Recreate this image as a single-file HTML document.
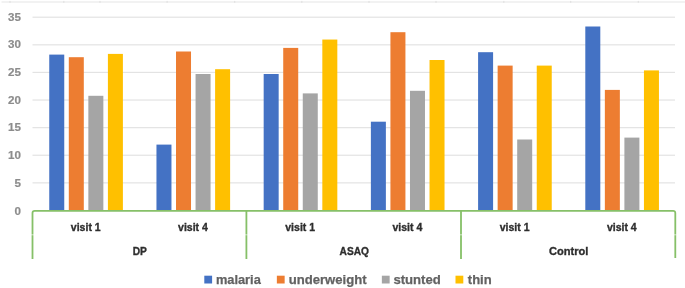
<!DOCTYPE html>
<html><head><meta charset="utf-8"><style>
html,body{margin:0;padding:0;background:#fff;width:685px;height:288px;overflow:hidden;font-family:"Liberation Sans",sans-serif;}
</style></head><body>
<svg width="685" height="288" viewBox="0 0 685 288" style="position:absolute;left:0;top:0;filter:blur(0.5px)">
<rect x="1.5" y="1.3" width="683.5" height="1.4" fill="#EDEDED"/>
<rect x="9.40" y="0.9" width="1.2" height="2" fill="#E2E2E2"/>
<rect x="63.20" y="0.9" width="1.2" height="2" fill="#E2E2E2"/>
<rect x="99.40" y="0.9" width="1.2" height="2" fill="#E2E2E2"/>
<rect x="166.50" y="0.9" width="1.2" height="2" fill="#E2E2E2"/>
<rect x="234.10" y="0.9" width="1.2" height="2" fill="#E2E2E2"/>
<rect x="301.20" y="0.9" width="1.2" height="2" fill="#E2E2E2"/>
<rect x="368.40" y="0.9" width="1.2" height="2" fill="#E2E2E2"/>
<rect x="435.40" y="0.9" width="1.2" height="2" fill="#E2E2E2"/>
<rect x="503.20" y="0.9" width="1.2" height="2" fill="#E2E2E2"/>
<rect x="570.10" y="0.9" width="1.2" height="2" fill="#E2E2E2"/>
<rect x="637.70" y="0.9" width="1.2" height="2" fill="#E2E2E2"/>
<rect x="32.5" y="16.60" width="642.5" height="1.2" fill="#E3E3E3"/>
<rect x="32.5" y="44.21" width="642.5" height="1.2" fill="#E3E3E3"/>
<rect x="32.5" y="71.82" width="642.5" height="1.2" fill="#E3E3E3"/>
<rect x="32.5" y="99.43" width="642.5" height="1.2" fill="#E3E3E3"/>
<rect x="32.5" y="127.04" width="642.5" height="1.2" fill="#E3E3E3"/>
<rect x="32.5" y="154.65" width="642.5" height="1.2" fill="#E3E3E3"/>
<rect x="32.5" y="182.26" width="642.5" height="1.2" fill="#E3E3E3"/>
<rect x="49.25" y="54.60" width="15.0" height="155.90" fill="#4472C4"/>
<rect x="68.80" y="57.20" width="15.0" height="153.30" fill="#ED7D31"/>
<rect x="88.35" y="95.80" width="15.0" height="114.70" fill="#A5A5A5"/>
<rect x="107.90" y="53.90" width="15.0" height="156.60" fill="#FFC000"/>
<rect x="156.46" y="144.60" width="15.0" height="65.90" fill="#4472C4"/>
<rect x="176.01" y="51.50" width="15.0" height="159.00" fill="#ED7D31"/>
<rect x="195.56" y="74.00" width="15.0" height="136.50" fill="#A5A5A5"/>
<rect x="215.11" y="69.20" width="15.0" height="141.30" fill="#FFC000"/>
<rect x="263.67" y="74.00" width="15.0" height="136.50" fill="#4472C4"/>
<rect x="283.22" y="47.90" width="15.0" height="162.60" fill="#ED7D31"/>
<rect x="302.77" y="93.40" width="15.0" height="117.10" fill="#A5A5A5"/>
<rect x="322.32" y="39.55" width="15.0" height="170.95" fill="#FFC000"/>
<rect x="370.88" y="121.70" width="15.0" height="88.80" fill="#4472C4"/>
<rect x="390.43" y="32.20" width="15.0" height="178.30" fill="#ED7D31"/>
<rect x="409.98" y="90.80" width="15.0" height="119.70" fill="#A5A5A5"/>
<rect x="429.53" y="60.00" width="15.0" height="150.50" fill="#FFC000"/>
<rect x="478.09" y="52.20" width="15.0" height="158.30" fill="#4472C4"/>
<rect x="497.64" y="65.60" width="15.0" height="144.90" fill="#ED7D31"/>
<rect x="517.19" y="139.50" width="15.0" height="71.00" fill="#A5A5A5"/>
<rect x="536.74" y="65.60" width="15.0" height="144.90" fill="#FFC000"/>
<rect x="585.30" y="26.50" width="15.0" height="184.00" fill="#4472C4"/>
<rect x="604.85" y="89.90" width="15.0" height="120.60" fill="#ED7D31"/>
<rect x="624.40" y="137.60" width="15.0" height="72.90" fill="#A5A5A5"/>
<rect x="643.95" y="70.40" width="15.0" height="140.10" fill="#FFC000"/>
<path d="M32.5 259 V213 Q32.5 210.8 34.7 210.8 H673 Q675.3 210.7 675.3 213 V258" fill="none" stroke="#86C068" stroke-width="1.8"/>
<rect x="245.50" y="210" width="1.8" height="49" fill="#86C068"/>
<rect x="460.10" y="210" width="1.8" height="49" fill="#86C068"/>
<rect x="31.00" y="234.3" width="3" height="1" fill="#fff" fill-opacity="0.6"/>
<rect x="244.90" y="234.3" width="3" height="1" fill="#fff" fill-opacity="0.6"/>
<rect x="459.50" y="234.3" width="3" height="1" fill="#fff" fill-opacity="0.6"/>
<rect x="673.80" y="234.3" width="3" height="1" fill="#fff" fill-opacity="0.6"/>
</svg>
<svg width="685" height="288" viewBox="0 0 685 288" style="position:absolute;left:0;top:0;filter:blur(0.7px)">
<text x="20.9" y="20.50" text-anchor="end" font-family="Liberation Sans" font-weight="bold" font-size="11.6" fill="#8C8C8C" stroke="#8C8C8C" stroke-width="0.2">35</text>
<text x="20.9" y="48.24" text-anchor="end" font-family="Liberation Sans" font-weight="bold" font-size="11.6" fill="#8C8C8C" stroke="#8C8C8C" stroke-width="0.2">30</text>
<text x="20.9" y="75.98" text-anchor="end" font-family="Liberation Sans" font-weight="bold" font-size="11.6" fill="#8C8C8C" stroke="#8C8C8C" stroke-width="0.2">25</text>
<text x="20.9" y="103.72" text-anchor="end" font-family="Liberation Sans" font-weight="bold" font-size="11.6" fill="#8C8C8C" stroke="#8C8C8C" stroke-width="0.2">20</text>
<text x="20.9" y="131.46" text-anchor="end" font-family="Liberation Sans" font-weight="bold" font-size="11.6" fill="#8C8C8C" stroke="#8C8C8C" stroke-width="0.2">15</text>
<text x="20.9" y="159.20" text-anchor="end" font-family="Liberation Sans" font-weight="bold" font-size="11.6" fill="#8C8C8C" stroke="#8C8C8C" stroke-width="0.2">10</text>
<text x="20.9" y="186.94" text-anchor="end" font-family="Liberation Sans" font-weight="bold" font-size="11.6" fill="#8C8C8C" stroke="#8C8C8C" stroke-width="0.2">5</text>
<text x="20.9" y="214.68" text-anchor="end" font-family="Liberation Sans" font-weight="bold" font-size="11.6" fill="#8C8C8C" stroke="#8C8C8C" stroke-width="0.2">0</text>
<text x="85.75" y="230.5" text-anchor="middle" font-family="Liberation Sans" font-weight="bold" font-size="11.2" fill="#2E2E2E" stroke="#2E2E2E" stroke-width="0.35" textLength="29.8" lengthAdjust="spacingAndGlyphs">visit 1</text>
<text x="192.97" y="230.5" text-anchor="middle" font-family="Liberation Sans" font-weight="bold" font-size="11.2" fill="#2E2E2E" stroke="#2E2E2E" stroke-width="0.35" textLength="29.8" lengthAdjust="spacingAndGlyphs">visit 4</text>
<text x="300.17" y="230.5" text-anchor="middle" font-family="Liberation Sans" font-weight="bold" font-size="11.2" fill="#2E2E2E" stroke="#2E2E2E" stroke-width="0.35" textLength="29.8" lengthAdjust="spacingAndGlyphs">visit 1</text>
<text x="407.38" y="230.5" text-anchor="middle" font-family="Liberation Sans" font-weight="bold" font-size="11.2" fill="#2E2E2E" stroke="#2E2E2E" stroke-width="0.35" textLength="29.8" lengthAdjust="spacingAndGlyphs">visit 4</text>
<text x="514.60" y="230.5" text-anchor="middle" font-family="Liberation Sans" font-weight="bold" font-size="11.2" fill="#2E2E2E" stroke="#2E2E2E" stroke-width="0.35" textLength="29.8" lengthAdjust="spacingAndGlyphs">visit 1</text>
<text x="621.80" y="230.5" text-anchor="middle" font-family="Liberation Sans" font-weight="bold" font-size="11.2" fill="#2E2E2E" stroke="#2E2E2E" stroke-width="0.35" textLength="29.8" lengthAdjust="spacingAndGlyphs">visit 4</text>
<text x="139.75" y="254.8" text-anchor="middle" font-family="Liberation Sans" font-weight="bold" font-size="11.2" fill="#2E2E2E" stroke="#2E2E2E" stroke-width="0.35" textLength="14.2" lengthAdjust="spacingAndGlyphs">DP</text>
<text x="354.30" y="254.8" text-anchor="middle" font-family="Liberation Sans" font-weight="bold" font-size="11.2" fill="#2E2E2E" stroke="#2E2E2E" stroke-width="0.35" textLength="29.4" lengthAdjust="spacingAndGlyphs">ASAQ</text>
<text x="568.70" y="254.8" text-anchor="middle" font-family="Liberation Sans" font-weight="bold" font-size="11.2" fill="#2E2E2E" stroke="#2E2E2E" stroke-width="0.35" textLength="39.4" lengthAdjust="spacingAndGlyphs">Control</text>
<rect x="204.30" y="275.7" width="7.8" height="7.8" fill="#4472C4"/>
<text x="215.9" y="283.5" font-family="Liberation Sans" font-weight="bold" font-size="13.2" fill="#626262" stroke="#626262" stroke-width="0.25" textLength="44.9" lengthAdjust="spacingAndGlyphs">malaria</text>
<rect x="276.85" y="275.7" width="7.8" height="7.8" fill="#ED7D31"/>
<text x="288.7" y="283.5" font-family="Liberation Sans" font-weight="bold" font-size="13.2" fill="#626262" stroke="#626262" stroke-width="0.25" textLength="77.9" lengthAdjust="spacingAndGlyphs">underweight</text>
<rect x="381.85" y="275.7" width="7.8" height="7.8" fill="#A5A5A5"/>
<text x="393.4" y="283.5" font-family="Liberation Sans" font-weight="bold" font-size="13.2" fill="#626262" stroke="#626262" stroke-width="0.25" textLength="47.4" lengthAdjust="spacingAndGlyphs">stunted</text>
<rect x="455.50" y="275.7" width="7.8" height="7.8" fill="#FFC000"/>
<text x="467.8" y="283.5" font-family="Liberation Sans" font-weight="bold" font-size="13.2" fill="#626262" stroke="#626262" stroke-width="0.25" textLength="23.9" lengthAdjust="spacingAndGlyphs">thin</text>
</svg>
</body></html>
